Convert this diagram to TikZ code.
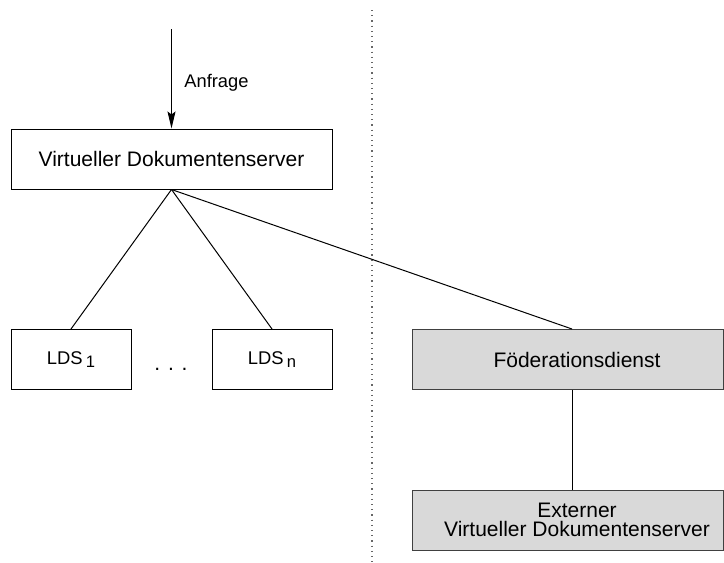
\documentclass[tikz,border=0pt]{standalone}
\usepackage{fontspec}
\setmainfont{Liberation Sans}
\usetikzlibrary{arrows.meta}
\tikzset{
    box/.style={draw, line width=0.5pt, inner sep=0pt, minimum height=30pt,
        font=\fontsize{10.5}{9.5}\selectfont},
    gbox/.style={box, fill=black!15, draw=black!75, minimum width=155.5pt},
    ldsbox/.style={box, minimum width=60pt, font=\fontsize{9.2}{11}\selectfont},
    conn/.style={line width=0.5pt},
}
\newcommand{\ldssub}[1]{LDS\,\raisebox{-1.8pt}{\fontsize{8.3}{10}\selectfont #1}}
\newcommand{\shiftr}{\hspace*{9.5pt}}
\begin{document}
\begin{tikzpicture}[x=0.5pt, y=-0.5pt]
    \useasboundingbox (0, 0) rectangle (724, 563);
        \coordinate (sep top) at (372, 10);
        \coordinate (sep bot) at (372, 563);
        \draw[dotted, black!60, line width=0.6pt] (sep top) to (sep bot);
    \node[box, minimum width=160.5pt] (vds) at (171.5, 159){Virtueller Dokumentenserver};
        \coordinate (req) at (171.5, 29);
        \draw[conn, -{Stealth[length=8.5pt, width=4pt, inset=1.5pt]}] (req) to (vds.north);
            \node[anchor=west, inner sep=0pt, font=\fontsize{9.15}{11}\selectfont] (anfrage) at (184, 83){Anfrage};
    \node[ldsbox] (lds1) at (71, 359.5){\ldssub{1}};
        \node[anchor=base, font=\fontsize{10.5}{12}\selectfont] (dots) at (171, 370){. . .};
    \node[ldsbox] (ldsn) at (272, 359.5){\ldssub{n}};
        \draw[conn] (vds.south) to (lds1.north);
        \draw[conn] (vds.south) to (ldsn.north);
    \node[gbox] (foed) at (567.5, 359.5){\shiftr Föderationsdienst};
        \draw[conn] (vds.south) to ([xshift=2.25pt]foed.north);
    \node[gbox, align=center] (ext) at (567.5, 520){\shiftr Externer\\\shiftr Virtueller Dokumentenserver};
        \draw[conn] ([xshift=2.25pt]foed.south) to ([xshift=2.25pt]ext.north);
\end{tikzpicture}
\end{document}
